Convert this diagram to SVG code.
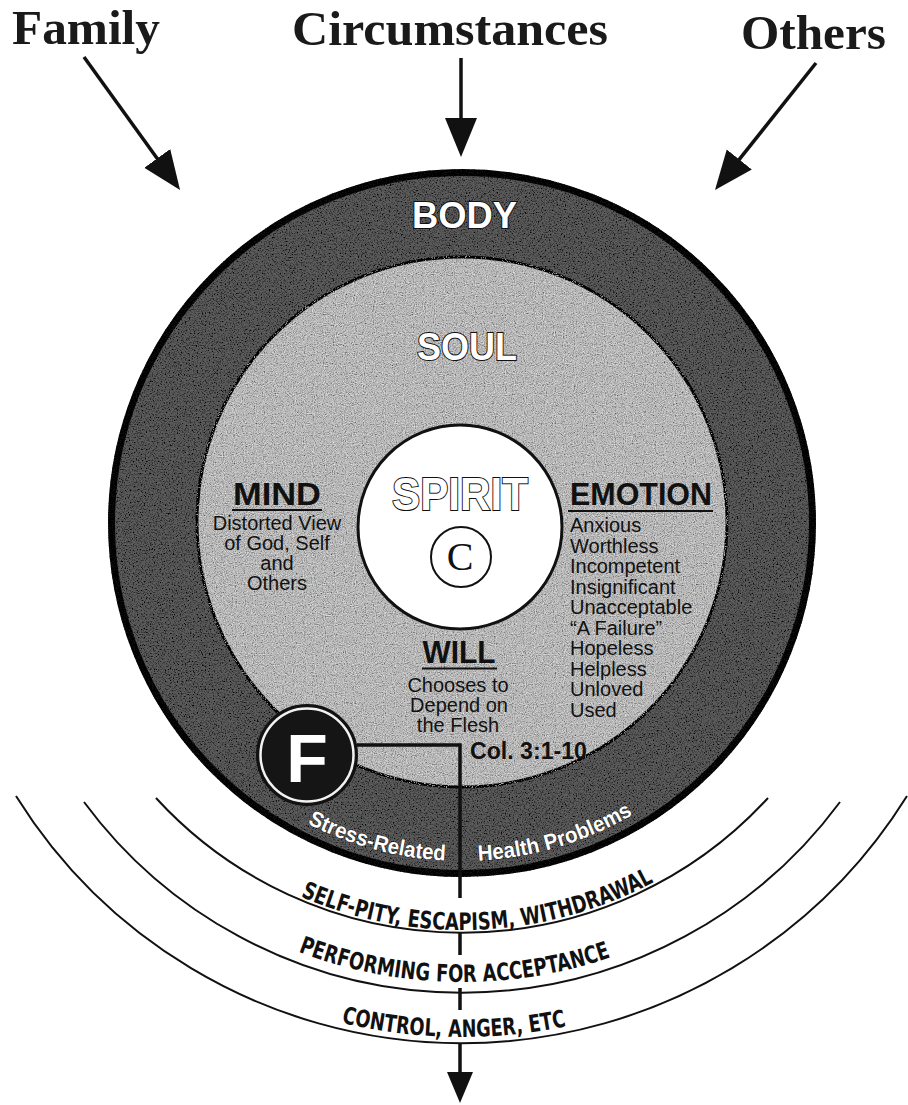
<svg xmlns="http://www.w3.org/2000/svg" width="908" height="1105" viewBox="0 0 908 1105">
  <style>
    .top { font-family: "Liberation Serif", "Times New Roman", serif; font-weight: bold; font-size: 48px; fill: #1a1a1a; }
    .hollow { font-family: "Liberation Sans", Arial, sans-serif; font-weight: bold; fill: #ffffff; stroke: #111; stroke-width: 2; paint-order: stroke; }
    .head { font-family: "Liberation Sans", Arial, sans-serif; font-weight: bold; font-size: 31px; fill: #111; }
    .body { font-family: "Liberation Sans", Arial, sans-serif; font-size: 20px; fill: #111; }
    .ring { font-family: "Liberation Sans Narrow", "DejaVu Sans Condensed", "Liberation Sans", Arial, sans-serif; font-weight: bold; font-size: 24px; fill: #111; }
    .band { font-family: "Liberation Sans", Arial, sans-serif; font-weight: bold; font-size: 22px; fill: #fff; stroke: #222; stroke-width: 1; paint-order: stroke; }
    .uline { stroke: #111; stroke-width: 2; }
    .arc { fill: none; stroke: #111; stroke-width: 2; }
    .conn { fill: none; stroke: #111; stroke-width: 3.5; }
  </style>
  <defs>
    <filter id="grain" x="-5%" y="-5%" width="110%" height="110%">
      <feTurbulence type="fractalNoise" baseFrequency="0.75" numOctaves="2" seed="7" result="n"/>
      <feColorMatrix in="n" type="matrix" values="0 0 0 0 0  0 0 0 0 0  0 0 0 0 0  3 0 0 0 -1.3" result="speck"/>
      <feComposite in="speck" in2="SourceGraphic" operator="in" result="clip"/>
      <feMerge><feMergeNode in="SourceGraphic"/><feMergeNode in="clip"/></feMerge>
    </filter>
    <filter id="grainLight" x="-5%" y="-5%" width="110%" height="110%">
      <feTurbulence type="fractalNoise" baseFrequency="0.9" numOctaves="2" seed="11" result="n"/>
      <feColorMatrix in="n" type="matrix" values="0 0 0 0 0  0 0 0 0 0  0 0 0 0 0  2 0 0 0 -0.95" result="dark"/>
      <feColorMatrix in="n" type="matrix" values="0 0 0 0 1  0 0 0 0 1  0 0 0 0 1  -2 0 0 0 0.85" result="light"/>
      <feComposite in="dark" in2="SourceGraphic" operator="in" result="d2"/>
      <feComposite in="light" in2="SourceGraphic" operator="in" result="l2"/>
      <feMerge><feMergeNode in="SourceGraphic"/><feMergeNode in="d2"/><feMergeNode in="l2"/></feMerge>
    </filter>
    <marker id="headBig" markerUnits="userSpaceOnUse" markerWidth="40" markerHeight="34" refX="8" refY="16" orient="auto">
      <path d="M0,0 L39,16 L0,32 Z" fill="#111"/>
    </marker>
    <marker id="headSmall" markerUnits="userSpaceOnUse" markerWidth="32" markerHeight="28" refX="6" refY="13" orient="auto">
      <path d="M0,0 L31,13 L0,26 Z" fill="#111"/>
    </marker>
    <path id="pBand" d="M 124 523 A 338 338 0 0 0 800 523"/>
    <path id="pSelf" d="M 55 523 A 407 407 0 0 0 869 523"/>
    <path id="pPerf" d="M 3 523 A 459 459 0 0 0 921 523"/>
    <path id="pCtrl" d="M -52 523 A 514 514 0 0 0 976 523"/>
  </defs>

  <rect x="0" y="0" width="908" height="1105" fill="#ffffff"/>

  <!-- Influence labels -->
  <g id="family">
    <text class="top" x="12" y="44" textLength="148" lengthAdjust="spacingAndGlyphs">Family</text>
  </g>
  <g id="circumstances">
    <text class="top" x="292" y="45" textLength="316" lengthAdjust="spacingAndGlyphs">Circumstances</text>
  </g>
  <g id="others">
    <text class="top" x="741" y="49" textLength="145" lengthAdjust="spacingAndGlyphs">Others</text>
  </g>

  <!-- Body -->
  <g id="body">
    <circle cx="462" cy="523" r="350.5" fill="#5d5d5d" stroke="#111" stroke-width="7" filter="url(#grain)"/>
    <text class="hollow" x="464.5" y="228" font-size="36" text-anchor="middle" textLength="105" lengthAdjust="spacingAndGlyphs">BODY</text>
    <text class="band"><textPath href="#pBand" startOffset="514" text-anchor="end" textLength="144" lengthAdjust="spacingAndGlyphs">Stress-Related</textPath></text>
    <text class="band"><textPath href="#pBand" startOffset="547" textLength="163" lengthAdjust="spacingAndGlyphs">Health Problems</textPath></text>
  </g>

  <!-- Soul -->
  <g id="soul">
    <circle cx="462" cy="522" r="265" fill="#bdbdbd" stroke="#111" stroke-width="3" filter="url(#grainLight)"/>
    <text class="hollow" x="467" y="360" font-size="39" text-anchor="middle" textLength="100" lengthAdjust="spacingAndGlyphs">SOUL</text>
  </g>

  <!-- Spirit -->
  <g id="spirit">
    <circle cx="460" cy="527" r="102" fill="#ffffff" stroke="#111" stroke-width="3"/>
    <text class="hollow" x="460" y="510" font-size="46" text-anchor="middle" textLength="136" lengthAdjust="spacingAndGlyphs">SPIRIT</text>
    <circle cx="461" cy="557" r="30" fill="none" stroke="#111" stroke-width="2"/>
    <text x="460" y="570" font-family="'Liberation Serif', 'Times New Roman', serif" font-size="40" text-anchor="middle" fill="#111">C</text>
  </g>

  <!-- Mind -->
  <g id="mind">
    <text class="head" x="277" y="505" text-anchor="middle" textLength="88" lengthAdjust="spacingAndGlyphs">MIND</text>
    <line class="uline" x1="232" y1="510" x2="322" y2="510"/>
    <text class="body" x="277" y="530" text-anchor="middle">Distorted View</text>
    <text class="body" x="277" y="550" text-anchor="middle">of God, Self</text>
    <text class="body" x="277" y="570" text-anchor="middle">and</text>
    <text class="body" x="277" y="590" text-anchor="middle">Others</text>
  </g>

  <!-- Emotion -->
  <g id="emotion">
    <text class="head" x="570" y="505" textLength="142" lengthAdjust="spacingAndGlyphs">EMOTION</text>
    <line class="uline" x1="568" y1="511" x2="713" y2="511"/>
    <text class="body" x="570" y="532">Anxious</text>
    <text class="body" x="570" y="552.5">Worthless</text>
    <text class="body" x="570" y="573">Incompetent</text>
    <text class="body" x="570" y="593.5">Insignificant</text>
    <text class="body" x="570" y="614">Unacceptable</text>
    <text class="body" x="570" y="634.5">“A Failure”</text>
    <text class="body" x="570" y="655">Hopeless</text>
    <text class="body" x="570" y="675.5">Helpless</text>
    <text class="body" x="570" y="696">Unloved</text>
    <text class="body" x="570" y="716.5">Used</text>
  </g>

  <!-- Will -->
  <g id="will">
    <text class="head" x="459" y="663" text-anchor="middle" textLength="73" lengthAdjust="spacingAndGlyphs">WILL</text>
    <line class="uline" x1="422" y1="668.5" x2="497" y2="668.5"/>
    <text class="body" x="458" y="692" font-size="19" text-anchor="middle">Chooses to</text>
    <text class="body" x="459" y="712" font-size="19" text-anchor="middle">Depend on</text>
    <text class="body" x="458" y="732" font-size="19" text-anchor="middle">the Flesh</text>
  </g>

  <!-- Scripture reference -->
  <g id="colossians">
    <text x="470" y="759" font-family="'Liberation Sans', Arial, sans-serif" font-weight="bold" font-size="23" fill="#111" textLength="117" lengthAdjust="spacingAndGlyphs">Col. 3:1-10</text>
  </g>

  <!-- Flesh -->
  <g id="flesh">
    <circle cx="307" cy="755" r="50" fill="#151515" stroke="#111" stroke-width="2"/>
    <circle cx="307" cy="755" r="46.5" fill="none" stroke="#f2f2f2" stroke-width="2.5"/>
    <text x="307" y="782" font-family="'Liberation Sans', Arial, sans-serif" font-weight="bold" font-size="68" fill="#ffffff" text-anchor="middle">F</text>
  </g>

  <!-- Outer behaviour rings -->
  <g id="ring-withdrawal">
    <path class="arc" d="M 156 798 A 415 415 0 0 0 768 798"/>
    <text class="ring"><textPath href="#pSelf" startOffset="656" text-anchor="middle" textLength="366" lengthAdjust="spacingAndGlyphs">SELF-PITY, ESCAPISM, WITHDRAWAL</textPath></text>
  </g>
  <g id="ring-performing">
    <path class="arc" d="M 84 802 A 470 470 0 0 0 840 802"/>
    <text class="ring"><textPath href="#pPerf" startOffset="713" text-anchor="middle" textLength="319" lengthAdjust="spacingAndGlyphs">PERFORMING FOR ACCEPTANCE</textPath></text>
  </g>
  <g id="ring-control">
    <path class="arc" d="M 16 796 A 525 525 0 0 0 907 796"/>
    <text class="ring"><textPath href="#pCtrl" startOffset="799" text-anchor="middle" textLength="227" lengthAdjust="spacingAndGlyphs">CONTROL, ANGER, ETC</textPath></text>
  </g>

  <!-- Connectors -->
  <g id="connectors">
    <path class="conn" d="M 84 57 L 161.9 164.9" marker-end="url(#headBig)"/>
    <path class="conn" d="M 461 58 L 461 126" marker-end="url(#headBig)"/>
    <path class="conn" d="M 816 63 L 734.3 165.7" marker-end="url(#headBig)"/>
    <path class="conn" stroke-width="3" d="M 357 745 L 460 745 L 460 898 M 460 932 L 460 955 M 460 988 L 460 1010 M 460 1043 L 460 1078" marker-end="url(#headSmall)"/>
  </g>
</svg>
